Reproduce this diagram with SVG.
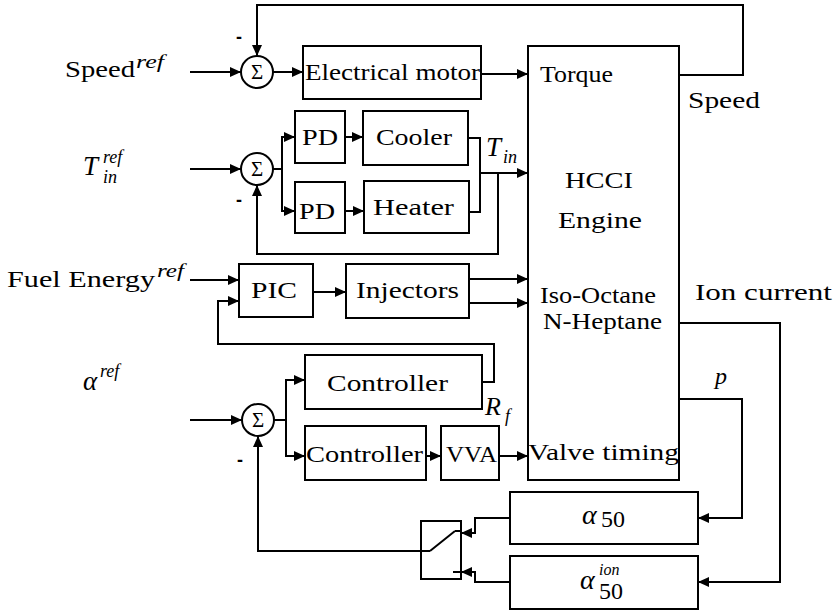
<svg xmlns="http://www.w3.org/2000/svg" width="835" height="610" viewBox="0 0 835 610">
<style>
.b{fill:#fff;stroke:#000;stroke-width:2}
.c{fill:none;stroke:#000;stroke-width:2}
.t{font-family:"Liberation Serif","Times New Roman",serif;font-size:24px;fill:#000}
.m{font-family:"Liberation Serif","Times New Roman",serif;font-style:italic;fill:#000}
.s{font-family:"Liberation Serif",serif;font-size:21px;fill:#000;text-anchor:middle}
.mn{font-family:"Liberation Sans",sans-serif;font-size:18px;font-weight:bold;fill:#000}
</style>
<defs>
<marker id="a" markerUnits="userSpaceOnUse" markerWidth="12" markerHeight="10" refX="11" refY="5" orient="auto">
<path d="M0,0 L11,5 L0,10 z" fill="#000"/>
</marker>
</defs>
<rect width="835" height="610" fill="#fff"/>
<g id="connectors">
<path class="c" d="M190,72 H241" marker-end="url(#a)"/>
<path class="c" d="M273,72 H303" marker-end="url(#a)"/>
<path class="c" d="M481,74 H528" marker-end="url(#a)"/>
<path class="c" d="M679,75 H743 V5 H257 V56" marker-end="url(#a)"/>
<path class="c" d="M190,169 H241" marker-end="url(#a)"/>
<path class="c" d="M273,169 H282 M282,137 V211"/>
<path class="c" d="M281,137 H295" marker-end="url(#a)"/>
<path class="c" d="M281,211 H295" marker-end="url(#a)"/>
<path class="c" d="M345,137 H363" marker-end="url(#a)"/>
<path class="c" d="M345,211 H364" marker-end="url(#a)"/>
<path class="c" d="M468,138 H480 V212 H469"/>
<path class="c" d="M480,173 H528" marker-end="url(#a)"/>
<path class="c" d="M498,173 V254 H257 V185" marker-end="url(#a)"/>
<path class="c" d="M190,280 H239" marker-end="url(#a)"/>
<path class="c" d="M313,292 H346" marker-end="url(#a)"/>
<path class="c" d="M469,279 H528" marker-end="url(#a)"/>
<path class="c" d="M469,303 H528" marker-end="url(#a)"/>
<path class="c" d="M482,382 H494 V344 H218 V301 H239" marker-end="url(#a)"/>
<path class="c" d="M190,420 H242" marker-end="url(#a)"/>
<path class="c" d="M274,420 H286 M286,380 V456"/>
<path class="c" d="M285,380 H305" marker-end="url(#a)"/>
<path class="c" d="M285,456 H305" marker-end="url(#a)"/>
<path class="c" d="M426,456 H441" marker-end="url(#a)"/>
<path class="c" d="M499,456 H528" marker-end="url(#a)"/>
<path class="c" d="M679,399 H742 V518 H698" marker-end="url(#a)"/>
<path class="c" d="M679,323 H780 V582 H698" marker-end="url(#a)"/>
<path class="c" d="M510,518 H475 V533 H461" marker-end="url(#a)"/>
<path class="c" d="M510,582 H475 V572 H461" marker-end="url(#a)"/>
<path class="c" d="M430,551 H258 V436" marker-end="url(#a)"/>
</g>
<g id="speed_ref"><text class="t" x="65" y="77" textLength="70" lengthAdjust="spacingAndGlyphs">Speed</text><text class="m" x="136" y="68" font-size="18" textLength="28" lengthAdjust="spacingAndGlyphs">ref</text></g>
<g id="sum1"><circle class="b" cx="257" cy="72" r="16"/><text class="s" x="257" y="79">Σ</text><text class="mn" x="236" y="43">-</text></g>
<g id="motor"><rect class="b" x="303" y="46" width="178" height="53"/><text class="t" x="305" y="80" textLength="175" lengthAdjust="spacingAndGlyphs">Electrical motor</text></g>
<g id="engine"><rect class="b" x="528" y="46" width="151" height="434"/>
<text class="t" x="540" y="82" textLength="73" lengthAdjust="spacingAndGlyphs">Torque</text>
<text class="t" x="565" y="188" textLength="68" lengthAdjust="spacingAndGlyphs">HCCI</text>
<text class="t" x="558" y="228" textLength="84" lengthAdjust="spacingAndGlyphs">Engine</text>
<text class="t" x="540" y="303" font-size="21" textLength="116" lengthAdjust="spacingAndGlyphs">Iso-Octane</text>
<text class="t" x="543" y="329" font-size="21" textLength="119" lengthAdjust="spacingAndGlyphs">N-Heptane</text>
<text class="t" x="528" y="460" textLength="151" lengthAdjust="spacingAndGlyphs">Valve timing</text></g>
<g id="speed_out"><text class="t" x="688" y="108" textLength="72" lengthAdjust="spacingAndGlyphs">Speed</text></g>
<g id="tin_ref"><text class="m" x="83" y="175" font-size="27">T</text><text class="m" x="103" y="163" font-size="18">ref</text><text class="m" x="103" y="183" font-size="18">in</text></g>
<g id="sum2"><circle class="b" cx="257" cy="169" r="16"/><text class="s" x="257" y="176">Σ</text><text class="mn" x="236" y="206">-</text></g>
<g id="pd1"><rect class="b" x="295" y="111" width="50" height="52"/><text class="t" x="302" y="145" textLength="36" lengthAdjust="spacingAndGlyphs">PD</text></g>
<g id="pd2"><rect class="b" x="295" y="182" width="50" height="51"/><text class="t" x="299" y="219" textLength="36" lengthAdjust="spacingAndGlyphs">PD</text></g>
<g id="cooler"><rect class="b" x="363" y="111" width="105" height="54"/><text class="t" x="376" y="145" textLength="76" lengthAdjust="spacingAndGlyphs">Cooler</text></g>
<g id="heater"><rect class="b" x="364" y="181" width="105" height="52"/><text class="t" x="373" y="215" textLength="81" lengthAdjust="spacingAndGlyphs">Heater</text></g>
<g id="tin"><text class="m" x="486" y="156" font-size="27">T</text><text class="m" x="503" y="163" font-size="18">in</text></g>
<g id="fuel_ref"><text class="t" x="7" y="287" textLength="148" lengthAdjust="spacingAndGlyphs">Fuel Energy</text><text class="m" x="157" y="277" font-size="18" textLength="27" lengthAdjust="spacingAndGlyphs">ref</text></g>
<g id="pic"><rect class="b" x="239" y="264" width="74" height="53"/><text class="t" x="251" y="298" textLength="46" lengthAdjust="spacingAndGlyphs">PIC</text></g>
<g id="injectors"><rect class="b" x="346" y="264" width="123" height="54"/><text class="t" x="356" y="298" textLength="103" lengthAdjust="spacingAndGlyphs">Injectors</text></g>
<g id="ion_label"><text class="t" x="695" y="300" textLength="137" lengthAdjust="spacingAndGlyphs">Ion current</text></g>
<g id="alpha_ref"><text class="m" x="83" y="390" font-size="27">α</text><text class="m" x="100" y="377" font-size="18">ref</text></g>
<g id="sum3"><circle class="b" cx="258" cy="420" r="16"/><text class="s" x="258" y="427">Σ</text><text class="mn" x="237" y="466">-</text></g>
<g id="controller1"><rect class="b" x="305" y="355" width="177" height="54"/><text class="t" x="327" y="391" textLength="121" lengthAdjust="spacingAndGlyphs">Controller</text></g>
<g id="rf"><text class="m" x="485" y="415" font-size="26">R</text><text class="m" x="505" y="422" font-size="18">f</text></g>
<g id="controller2"><rect class="b" x="305" y="426" width="121" height="54"/><text class="t" x="306" y="462" textLength="117" lengthAdjust="spacingAndGlyphs">Controller</text></g>
<g id="vva"><rect class="b" x="441" y="426" width="58" height="54"/><text class="t" x="446" y="462" textLength="51" lengthAdjust="spacingAndGlyphs">VVA</text></g>
<g id="p_label"><text class="m" x="715" y="384" font-size="24">p</text></g>
<g id="alpha50"><rect class="b" x="510" y="492" width="188" height="52"/><text class="m" x="582" y="524" font-size="28">α</text><text class="t" x="601" y="527" font-size="18">50</text></g>
<g id="alpha50ion"><rect class="b" x="510" y="556" width="188" height="53"/><text class="m" x="580" y="589" font-size="28">α</text><text class="m" x="599" y="575" font-size="16">ion</text><text class="t" x="599" y="599" font-size="18">50</text></g>
<g id="switch"><rect class="c" x="421" y="521" width="40" height="58"/><path class="c" d="M430,551 L455,531 M455,531 H461 M453,572 H461"/></g>
</svg>
